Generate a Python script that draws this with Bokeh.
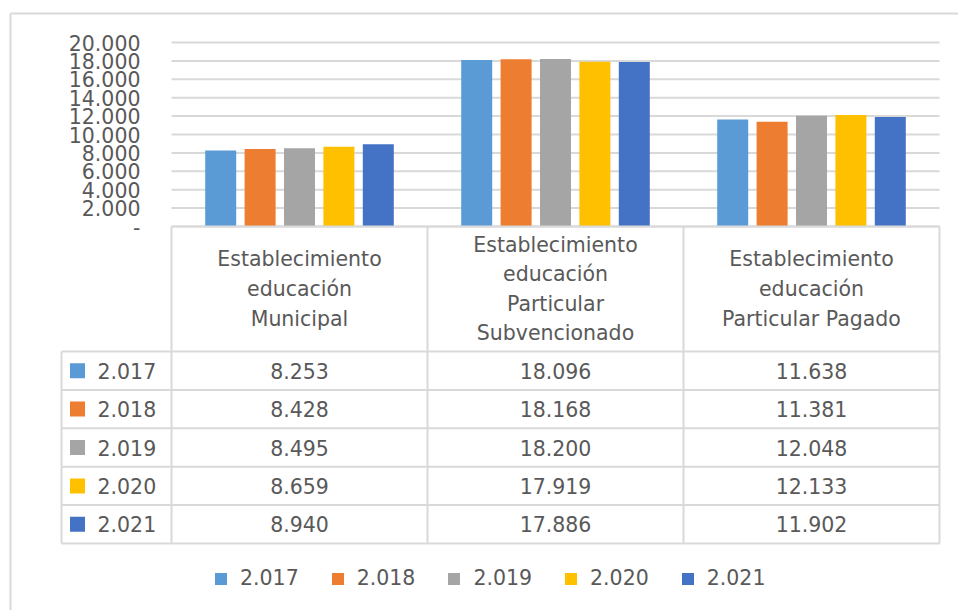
from bokeh.plotting import figure
from bokeh.models import Range1d, LinearAxis, FixedTicker, Legend, LegendItem
from bokeh.core.properties import value
from bokeh.embed import file_html
from bokeh.resources import INLINE

# ---------------- data ----------------
categories = [
    "Establecimiento\neducación\nMunicipal",
    "Establecimiento\neducación\nParticular\nSubvencionado",
    "Establecimiento\neducación\nParticular Pagado",
]
years = ["2.017", "2.018", "2.019", "2.020", "2.021"]
v2017 = [8253, 18096, 11638]
v2018 = [8428, 18168, 11381]
v2019 = [8495, 18200, 12048]
v2020 = [8659, 17919, 12133]
v2021 = [8940, 17886, 11902]
series = [v2017, v2018, v2019, v2020, v2021]
y_ticks = [0, 2000, 4000, 6000, 8000, 10000, 12000, 14000, 16000, 18000, 20000]
y_tick_labels = ["-", "2.000", "4.000", "6.000", "8.000", "10.000", "12.000",
                 "14.000", "16.000", "18.000", "20.000"]

# ---------------- style / layout ----------------
colors = ["#5B9BD5", "#ED7D31", "#A5A5A5", "#FFC000", "#4472C4"]
TXT = "#595959"
LINE = "#D9D9D9"
FONT = "DejaVu Sans"
FS = "20.5px"

W, H = 958, 610
PX0 = 0                 # page origin of the canvas
CAT_LEFT, CAT_W = 171, 256.0
BASE_Y, TOP_Y = 226, 42
YMAX = 20000
ROW_TOP, ROW_H = 351, 38.4
LEG_LEFT_PX = 61
BORDER_X, BORDER_Y = 10, 13

def xpx(px):
    return (px - CAT_LEFT) / CAT_W

ys = YMAX / (BASE_Y - TOP_Y)
x_range = Range1d(xpx(PX0), xpx(PX0 + W))
y_range = Range1d(-(PX0 + H - BASE_Y) * ys, (BASE_Y - PX0) * ys)
tbl_range = Range1d((PX0 + H - ROW_TOP) / ROW_H, -(ROW_TOP - PX0) / ROW_H)

p = figure(width=W, height=H, x_range=x_range, y_range=y_range,
           output_backend="svg", toolbar_location=None, min_border=0,
           x_axis_location=None, y_axis_location=None)
p.extra_y_ranges = {"tbl": tbl_range}
for g in p.grid:
    g.visible = False
p.outline_line_color = None
p.background_fill_color = "white"
p.border_fill_color = "white"

ncat = len(categories)

# chart border (left and top)
p.segment(x0=[xpx(BORDER_X), xpx(BORDER_X)], y0=[(BASE_Y - BORDER_Y) * ys] * 2,
          x1=[xpx(PX0 + W + 20), xpx(BORDER_X)], y1=[(BASE_Y - BORDER_Y) * ys, y_range.start - 100],
          line_color=LINE, line_width=2)

# gridlines
p.segment(x0=[0] * len(y_ticks), x1=[ncat] * len(y_ticks), y0=y_ticks, y1=y_ticks,
          line_color=LINE, line_width=2)

# y axis
ax = LinearAxis(fixed_location=0, ticker=FixedTicker(ticks=y_ticks),
                major_label_overrides={t: l for t, l in zip(y_ticks, y_tick_labels)},
                axis_line_color=None, major_tick_line_color=None, minor_tick_line_color=None,
                major_label_standoff=25, major_label_text_font=FONT,
                major_label_text_font_size=FS, major_label_text_color=TXT)
p.add_layout(ax, "left")

# bars
pitch, bw = 39.4 / CAT_W, 31 / CAT_W
renderers = []
for j, vals in enumerate(series):
    xs = [i + 0.5 + (j - 2) * pitch for i in range(ncat)]
    r = p.vbar(x=xs, top=vals, bottom=0, width=bw, fill_color=colors[j], line_color=None)
    renderers.append(r)

# data table
nrow = len(years)
header_y = (BASE_Y - ROW_TOP) / ROW_H
leg_left = xpx(LEG_LEFT_PX)
p.segment(x0=[leg_left] * (nrow + 1), x1=[ncat] * (nrow + 1),
          y0=list(range(nrow + 1)), y1=list(range(nrow + 1)),
          line_color=LINE, line_width=2, y_range_name="tbl")
p.segment(x0=[0], x1=[ncat], y0=[header_y], y1=[header_y],
          line_color=LINE, line_width=2, y_range_name="tbl")
p.segment(x0=[leg_left], x1=[leg_left], y0=[0], y1=[nrow],
          line_color=LINE, line_width=2, y_range_name="tbl")
p.segment(x0=list(range(ncat + 1)), x1=list(range(ncat + 1)),
          y0=[header_y] * (ncat + 1), y1=[nrow] * (ncat + 1),
          line_color=LINE, line_width=2, y_range_name="tbl")

p.text(x=[i + 0.5 for i in range(ncat)], y=[header_y / 2] * ncat, text=categories,
       text_align="center", text_baseline="middle", text_line_height=1.23,
       text_font=value(FONT), text_font_size=FS, text_color=TXT, y_range_name="tbl")

for j, vals in enumerate(series):
    labels = [f"{v:,}".replace(",", ".") for v in vals]
    p.text(x=[i + 0.5 for i in range(ncat)], y=[j + 0.5] * ncat, text=labels,
           text_align="center", text_baseline="middle",
           text_font=value(FONT), text_font_size=FS, text_color=TXT, y_range_name="tbl")

p.scatter(x=[xpx(77)] * nrow, y=[j + 0.5 for j in range(nrow)], marker="square",
          size=15, fill_color=colors, line_color=None, y_range_name="tbl")
p.text(x=[xpx(97)] * nrow, y=[j + 0.5 for j in range(nrow)], text=years,
       text_align="left", text_baseline="middle",
       text_font=value(FONT), text_font_size=FS, text_color=TXT, y_range_name="tbl")

# bottom legend
legend = Legend(items=[LegendItem(label=y, renderers=[r]) for y, r in zip(years, renderers)],
                orientation="horizontal", location=(213, 20),
                glyph_width=15, glyph_height=15, label_standoff=12, spacing=31,
                padding=0, margin=0, border_line_color=None, background_fill_alpha=0,
                label_text_font=FONT, label_text_font_size=FS, label_text_color=TXT)
p.add_layout(legend)

open("out.html", "w").write(file_html(p, INLINE))
